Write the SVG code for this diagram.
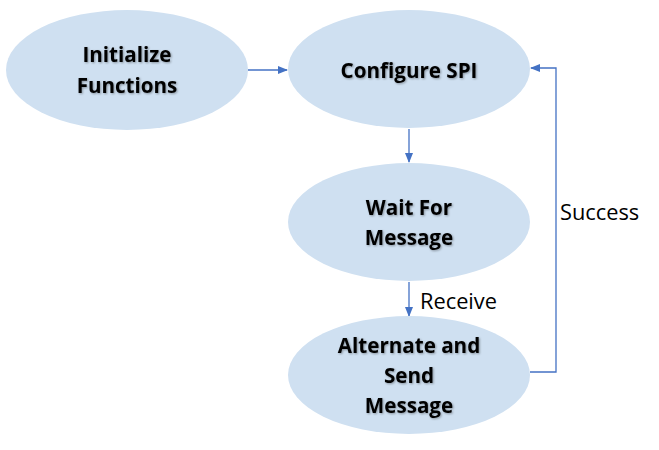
<svg xmlns="http://www.w3.org/2000/svg" width="659" height="450" viewBox="0 0 659 450">
<style>
.node{fill:#cfe0f1;stroke:none}
.t{font-family:"Open Sans","Liberation Sans",sans-serif;font-weight:bold;font-size:20.6px;fill:#000;text-anchor:middle;filter:url(#sh)}
.lbl{font-family:"Open Sans","Liberation Sans",sans-serif;font-size:21.8px;fill:#000}
.c{fill:none;stroke:#4472c4;stroke-width:1.3}
</style>
<defs>
<marker id="ah" markerWidth="10" markerHeight="8" refX="9" refY="4" orient="auto" markerUnits="userSpaceOnUse">
<path d="M0,0 L10,4 L0,8 Z" fill="#4472c4"/>
</marker>
<filter id="sh" x="-10%" y="-30%" width="130%" height="160%">
<feDropShadow dx="1" dy="1" stdDeviation="0.8" flood-color="#000" flood-opacity="0.35"/>
</filter>
</defs>
<rect width="659" height="450" fill="#fff"/>
<g id="connectors">
<line class="c" x1="248" y1="70" x2="287" y2="70" marker-end="url(#ah)"/>
<line class="c" x1="409" y1="129" x2="409" y2="162" marker-end="url(#ah)"/>
<line class="c" x1="409" y1="282" x2="409" y2="316" marker-end="url(#ah)"/>
<polyline class="c" points="530,372 556,372 556,68 531,68" marker-end="url(#ah)"/>
<text class="lbl" x="420" y="309">Receive</text>
<text class="lbl" x="560" y="220">Success</text>
</g>
<g id="init">
<ellipse class="node" cx="127" cy="70" rx="121" ry="60"/>
<text class="t" x="127" y="62">Initialize</text>
<text class="t" x="127" y="93">Functions</text>
</g>
<g id="configure">
<ellipse class="node" cx="409" cy="69" rx="121" ry="59"/>
<text class="t" x="409" y="78">Configure SPI</text>
</g>
<g id="wait">
<ellipse class="node" cx="409" cy="222" rx="121" ry="59"/>
<text class="t" x="409" y="215">Wait For</text>
<text class="t" x="409" y="245">Message</text>
</g>
<g id="alternate">
<ellipse class="node" cx="409" cy="375" rx="121" ry="59"/>
<text class="t" x="409" y="353">Alternate and</text>
<text class="t" x="409" y="383">Send</text>
<text class="t" x="409" y="413">Message</text>
</g>
</svg>
